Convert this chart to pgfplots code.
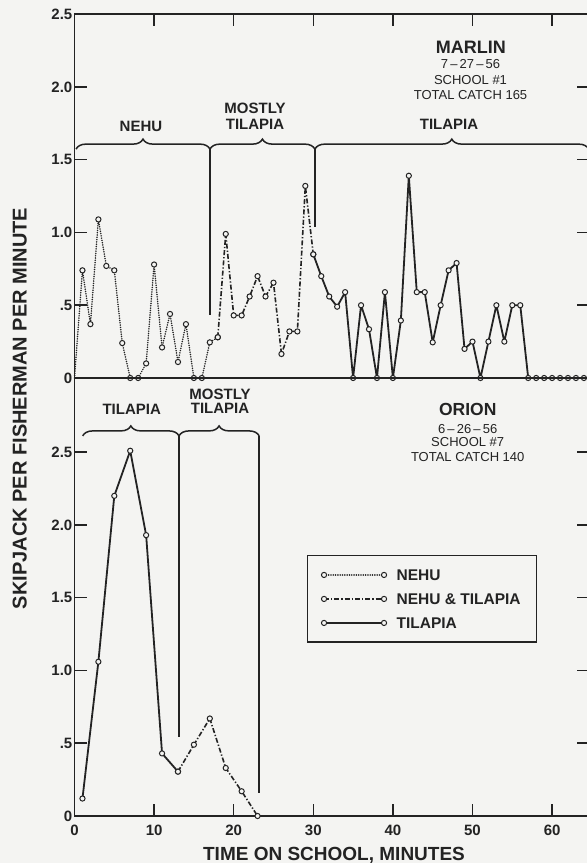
\documentclass[border=0pt]{standalone}
\usepackage{pgfplots}
\pgfplotsset{compat=1.18}
\usepackage{fontspec}
\setmainfont{Liberation Sans}
\usetikzlibrary{decorations.pathreplacing}
\definecolor{ink}{RGB}{35,35,35}
\definecolor{paper}{RGB}{244,244,242}
\newcommand{\fs}[1]{\fontsize{#1bp}{#1bp}\selectfont}
\tikzset{
  mk/.style={mark=*, mark size=2.6bp, mark options={solid, fill=paper, draw=ink, line width=1bp}},
  nehu/.style={ink, line width=1.7bp, line cap=round, dash pattern=on 0.01bp off 2.3bp, mk},
  mixed/.style={ink, line width=1.6bp, dash pattern=on 5bp off 2bp on 1.3bp off 2bp, mk},
  tilap/.style={ink, line width=1.8bp, line join=round, mk},
  brc/.style={ink, line width=1.5bp, decorate, decoration={brace, amplitude=10bp}},
  vln/.style={ink, line width=1.5bp},
  lab/.style={font=\fs{15}\bfseries, text=ink, inner sep=0pt},
  big/.style={font=\fs{18}\bfseries, text=ink, inner sep=0pt},
  small/.style={font=\fs{13}, text=ink, inner sep=0pt},
}
\pgfplotsset{
  base/.style={
    scale only axis, width=514.2bp, xmin=0, xmax=64.6,
    axis line style={ink, line width=1.8bp},
    every tick/.append style={ink, line width=1.5bp},
    major tick length=12bp,
    tick align=inside,
    ytick={0,0.5,1,1.5,2,2.5},
    yticklabels={\textbf{0},\textbf{.5},\textbf{1.0},\textbf{1.5},\textbf{2.0},\textbf{2.5}},
    ytick pos=both,
    yticklabel style={font=\fs{15}, inner sep=2bp, text=ink},
    xticklabel style={font=\fs{15}, inner sep=1.5bp, yshift=-7.5bp, text=ink},
    clip=false,
  },
}
\begin{document}
\begin{tikzpicture}
\fill[paper] (0,0) rectangle (587bp,863bp);

% ---------------- top panel: MARLIN ----------------
\begin{axis}[base,
  at={(74.5bp,485bp)}, anchor=south west,
  height=363.75bp, ymin=0, ymax=2.5,
  xtick={10,20,30,40,50,60}, xtick pos=right, xticklabels={},
]
\addplot[nehu, mark phase=2] coordinates {
 (0,0) (1,0.74) (2,0.37) (3,1.09) (4,0.77) (5,0.74) (6,0.24) (7,0) (8,0)
 (9,0.10) (10,0.78) (11,0.21) (12,0.44) (13,0.11) (14,0.37) (15,0) (16,0)
 (17,0.245) (18,0.28)};
\addplot[mixed] coordinates {
 (18,0.28) (19,0.99) (20,0.43) (21,0.43) (22,0.56) (23,0.70) (24,0.56)
 (25,0.655) (26,0.165) (27,0.32) (28,0.32) (29,1.32) (30,0.85)};
\addplot[tilap] coordinates {
 (30,0.85) (31,0.70) (32,0.56) (33,0.49) (34,0.59) (35,0) (36,0.50)
 (37,0.335) (38,0) (39,0.59) (40,0) (41,0.395) (42,1.39) (43,0.59)
 (44,0.59) (45,0.245) (46,0.50) (47,0.74) (48,0.79) (49,0.20) (50,0.25)
 (51,0) (52,0.25) (53,0.50) (54,0.25) (55,0.50) (56,0.50) (57,0) (58,0)
 (59,0) (60,0) (61,0) (62,0) (63,0) (64,0)};
% brackets
\draw[brc] (axis cs:0.19,1.573) -- (axis cs:17.02,1.573);
\draw[brc] (axis cs:17.02,1.573) -- (axis cs:30.2,1.573);
\draw[brc] (axis cs:30.2,1.573) -- (axis cs:64.6,1.573);
\draw[vln] (axis cs:17.02,1.573) -- (axis cs:17.02,0.43);
\draw[vln] (axis cs:30.2,1.573) -- (axis cs:30.2,1.04);
\node[lab] at (axis cs:8.35,1.732) {NEHU};
\node[lab] at (axis cs:22.68,1.856) {MOSTLY};
\node[lab] at (axis cs:22.68,1.746) {TILAPIA};
\node[lab] at (axis cs:47.05,1.746) {TILAPIA};
\node[big] at (axis cs:49.8,2.275) {MARLIN};
\node[small] at (axis cs:49.75,2.157) {7\,–\,27\,–\,56};
\node[small] at (axis cs:49.75,2.048) {SCHOOL \#1};
\node[small] at (axis cs:49.75,1.947) {TOTAL CATCH 165};
\end{axis}

% ---------------- bottom panel: ORION ----------------
\begin{axis}[base,
  at={(74.5bp,485bp)}, anchor=north west,
  height=438bp, ymin=0, ymax=3.01,
  xtick={0,10,20,30,40,50,60}, xtick pos=left,
  xticklabels={\textbf{0},\textbf{10},\textbf{20},\textbf{30},\textbf{40},\textbf{50},\textbf{60}},
  legend image code/.code={\draw[#1, mark repeat=2, mark phase=1] plot coordinates {(0bp,0bp) (30bp,0bp) (60bp,0bp)};},
  legend style={at={(axis cs:29.17,1.794)}, anchor=north west,
    draw=ink, line width=1.5bp, fill=paper, inner sep=14bp,
    row sep=13.5bp, column sep=10bp,
    font=\fs{15.5}\bfseries, text=ink,
    nodes={inner sep=0pt, text height=10.5bp, text depth=0pt},
    cells={anchor=center}},
]
\addlegendimage{nehu}
\addlegendentry{\makebox[126bp][l]{NEHU}}
\addlegendimage{mixed}
\addlegendentry{\makebox[126bp][l]{NEHU \& TILAPIA}}
\addlegendimage{tilap}
\addlegendentry{\makebox[126bp][l]{TILAPIA}}
\addplot[tilap, forget plot] coordinates {
 (1,0.12) (3,1.06) (5,2.20) (7,2.51) (9,1.93) (11,0.43) (13,0.305)};
\addplot[mixed, forget plot] coordinates {
 (13,0.305) (15,0.49) (17,0.67) (19,0.33) (21,0.17) (23,0)};
\draw[brc] (axis cs:1.03,2.612) -- (axis cs:13.13,2.612);
\draw[brc] (axis cs:13.13,2.612) -- (axis cs:23.2,2.612);
\draw[vln] (axis cs:13.13,2.612) -- (axis cs:13.13,0.54);
\draw[vln] (axis cs:23.2,2.612) -- (axis cs:23.2,0.16);
\node[lab] at (axis cs:7.19,2.797) {TILAPIA};
\node[lab] at (axis cs:18.28,2.900) {MOSTLY};
\node[lab] at (axis cs:18.28,2.804) {TILAPIA};
\node[font=\fs{17.5}\bfseries, text=ink, inner sep=0pt] at (axis cs:49.4,2.793) {ORION};
\node[small] at (axis cs:49.4,2.658) {6\,–\,26\,–\,56};
\node[small] at (axis cs:49.4,2.570) {SCHOOL \#7};
\node[small] at (axis cs:49.4,2.466) {TOTAL CATCH 140};
\end{axis}

% axis titles
\node[font=\fs{20}\bfseries, text=ink, rotate=90, anchor=base, inner sep=0pt]
  at (26.7bp,454.5bp) {SKIPJACK PER FISHERMAN PER MINUTE};
\node[font=\fs{19}\bfseries, text=ink, anchor=base, inner sep=0pt]
  at (334bp,2.5bp) {TIME ON SCHOOL, MINUTES};

\pgfresetboundingbox
\useasboundingbox (0,0) rectangle (587bp,863bp);
\end{tikzpicture}
\end{document}
